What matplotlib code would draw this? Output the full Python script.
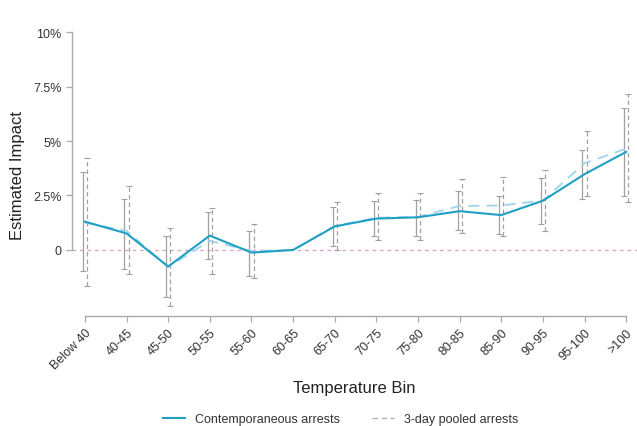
import matplotlib
matplotlib.use("Agg")
import matplotlib.pyplot as plt
import numpy as np

plt.rcParams["font.family"] = ["Liberation Sans", "DejaVu Sans"]

bins = ["Below 40", "40-45", "45-50", "50-55", "55-60", "60-65", "65-70",
        "70-75", "75-80", "80-85", "85-90", "90-95", "95-100", ">100"]

# Contemporaneous arrests: point estimate and 95% CI (percent)
contemp = [1.30, 0.76, -0.76, 0.66, -0.12, 0.0, 1.08, 1.44, 1.50, 1.78, 1.60, 2.26, 3.48, 4.50]
contemp_lo = [-0.96, -0.87, -2.16, -0.41, -1.18, np.nan, 0.18, 0.64, 0.63, 0.93, 0.73, 1.19, 2.34, 2.49]
contemp_hi = [3.58, 2.34, 0.66, 1.74, 0.89, np.nan, 1.97, 2.26, 2.31, 2.69, 2.49, 3.29, 4.60, 6.50]

# 3-day pooled arrests: point estimate and 95% CI (percent)
pooled = [1.25, 0.88, -0.78, 0.42, -0.05, 0.0, 1.10, 1.48, 1.52, 2.02, 2.04, 2.27, 3.98, 4.65]
pooled_lo = [-1.65, -1.10, -2.55, -1.10, -1.28, np.nan, 0.01, 0.47, 0.47, 0.78, 0.66, 0.89, 2.46, 2.22]
pooled_hi = [4.22, 2.95, 1.00, 1.93, 1.19, np.nan, 2.20, 2.61, 2.61, 3.26, 3.33, 3.68, 5.47, 7.16]

yticks = [0, 2.5, 5, 7.5, 10]
ytick_labels = ["0", "2.5%", "5%", "7.5%", "10%"]

teal = "#1f9fc4"
light = "#9fd3ea"
grey = "#a0a0a0"
text = "#333333"

fig = plt.figure(figsize=(6.37, 4.27), dpi=100)
ax = fig.add_axes([0.113, 0.2576, 0.887, 0.665])

x = np.arange(len(bins))
off = 0.05

# Confidence intervals, skipping the omitted reference bin
for i in range(len(bins)):
    if np.isnan(contemp_lo[i]):
        continue
    ax.errorbar(x[i] - off, contemp[i],
                yerr=[[contemp[i] - contemp_lo[i]], [contemp_hi[i] - contemp[i]]],
                fmt="none", ecolor=grey, elinewidth=0.9, capsize=2.0, capthick=0.8, zorder=2)
    eb = ax.errorbar(x[i] + off, pooled[i],
                     yerr=[[pooled[i] - pooled_lo[i]], [pooled_hi[i] - pooled[i]]],
                     fmt="none", ecolor=grey, elinewidth=0.9, capsize=2.0, capthick=0.8, zorder=2)
    eb[2][0].set_linestyle((0, (3.5, 2.5)))

ax.axhline(0, color="#d9a3c4", lw=0.9, ls=(0, (3, 3)), zorder=1)

ax.plot(x, pooled, color=light, lw=1.3, ls=(0, (6, 4)), zorder=3)
ax.plot(x, contemp, color=teal, lw=1.5, zorder=4)

ax.set_xlim(-0.31, 13.26)
ax.set_ylim(-3.03, 10)
ax.set_yticks(yticks)
ax.set_yticklabels(ytick_labels)
ax.set_xticks(x)
ax.set_xticklabels(bins, rotation=45, ha="right", rotation_mode="anchor")

for s in ["top", "right"]:
    ax.spines[s].set_visible(False)
ax.spines["left"].set_bounds(0, 10)
ax.spines["bottom"].set_bounds(0, 13)
for s in ["left", "bottom"]:
    ax.spines[s].set_color("#aaaaaa")
    ax.spines[s].set_linewidth(1.0)
ax.tick_params(axis="both", colors="#aaaaaa", labelcolor=text, labelsize=9, length=4, width=0.9)

ax.set_ylabel("Estimated Impact", fontsize=12, color="#222222", labelpad=6)
ax.set_xlabel("Temperature Bin", fontsize=12, color="#222222", labelpad=6)

leg_handles = [plt.Line2D([], [], color=teal, lw=1.5),
               plt.Line2D([], [], color="#a8b4bc", lw=1.0, ls=(0, (4, 2.5)))]
fig.legend(leg_handles, ["Contemporaneous arrests", "3-day pooled arrests"],
           loc="lower center", bbox_to_anchor=(0.535, -0.025), ncol=2, frameon=False,
           fontsize=9, handlelength=1.8, columnspacing=2.5, labelcolor=text)

fig.savefig("out.png", dpi=100, facecolor="white")
